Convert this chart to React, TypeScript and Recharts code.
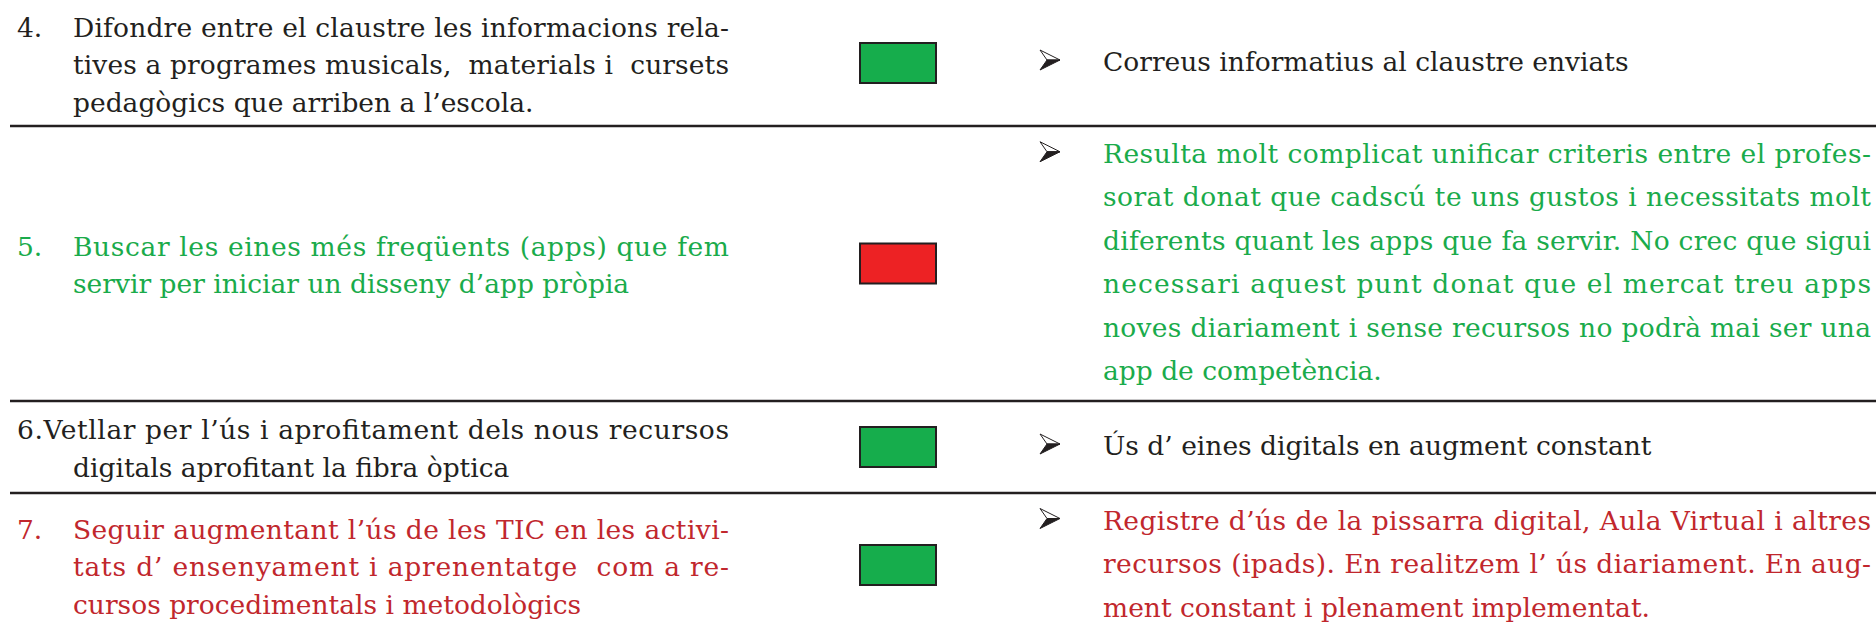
import { BarChart, Bar, XAxis, YAxis } from "recharts";

// files de la taula (alçada de cada fila, llegida de la imatge)
const rowHeights = [126, 275, 92, 144];
const rowNumbers = ["4.", "5.", "", "7."];
const rowTones = ["fosc", "verd", "fosc", "vermell"];
const statuses = ["assolit", "no assolit", "assolit", "assolit"];

const objectiveLines = [
  [
    "Difondre entre el claustre les informacions rela-",
    "tives a programes musicals,  materials i  cursets",
    "pedagògics que arriben a l’escola.",
  ],
  [
    "Buscar les eines més freqüents (apps) que fem",
    "servir per iniciar un disseny d’app pròpia",
  ],
  [
    "6.Vetllar per l’ús i aprofitament dels nous recursos",
    "digitals aprofitant la fibra òptica",
  ],
  [
    "Seguir augmentant l’ús de les TIC en les activi-",
    "tats d’ ensenyament i aprenentatge  com a re-",
    "cursos procedimentals i metodològics",
  ],
];

const evidenceLines = [
  ["Correus informatius al claustre enviats"],
  [
    "Resulta molt complicat unificar criteris entre el profes-",
    "sorat donat que cadscú te uns gustos i necessitats molt",
    "diferents quant les apps que fa servir. No crec que sigui",
    "necessari aquest punt donat que el mercat treu apps",
    "noves diariament i sense recursos no podrà mai ser una",
    "app de competència.",
  ],
  ["Ús d’ eines digitals en augment constant"],
  [
    "Registre d’ús de la pissarra digital, Aula Virtual i altres",
    "recursos (ipads). En realitzem l’ ús diariament. En aug-",
    "ment constant i plenament implementat.",
  ],
];

const TONE: Record<string, string> = {
  fosc: "#231f20",
  verd: "#1aab4b",
  vermell: "#c1272d",
};
const STATUS_FILL: Record<string, string> = {
  assolit: "#16ad4c",
  "no assolit": "#ed2224",
};

const W = 1876;
const TOTAL = rowHeights.reduce((a, b) => a + b, 0);
const FONT = "'DejaVu Serif', serif";

function TableRow(props: any) {
  const { x, y, width, height, row } = props;
  const top = Math.min(y, y + height);
  const h = Math.abs(height);
  const mid = top + h / 2;
  const color = TONE[rowTones[row]];
  const left = objectiveLines[row];
  const right = evidenceLines[row];
  const leftBase = (i: number) => mid + 11 + (i - (left.length - 1) / 2) * 37.5;
  const rightBase = (i: number) => mid + 8 + (i - (right.length - 1) / 2) * 43.5;
  const bx = x + 1040;
  const cy = rightBase(0) - 11;

  return (
    <g fontFamily={FONT} fontSize={26.5}>
      {rowNumbers[row] && (
        <text x={x + 17} y={leftBase(0)} fill={color}>
          {rowNumbers[row]}
        </text>
      )}
      {left.map((t, i) => {
        const sx = !rowNumbers[row] && i === 0 ? x + 17 : x + 73;
        const last = i === left.length - 1;
        return (
          <text
            key={i}
            x={sx}
            y={leftBase(i)}
            fill={color}
            textLength={last ? undefined : x + 729 - sx}
            lengthAdjust="spacing"
            xmlSpace="preserve"
          >
            {t}
          </text>
        );
      })}

      <rect
        x={x + 860}
        y={mid - 20}
        width={76}
        height={40}
        fill={STATUS_FILL[statuses[row]]}
        stroke="#231f20"
        strokeWidth={2}
      />

      <path
        d={`M${bx},${cy - 10} L${bx + 20},${cy} L${bx + 7},${cy} Z`}
        fill="#fff"
        stroke="#231f20"
        strokeWidth={1}
        strokeLinejoin="round"
      />
      <path
        d={`M${bx + 7},${cy} L${bx + 20},${cy} L${bx},${cy + 10} Z`}
        fill="#231f20"
        stroke="#231f20"
        strokeWidth={1}
        strokeLinejoin="round"
      />
      {right.map((t, i) => {
        const last = i === right.length - 1;
        return (
          <text
            key={i}
            x={x + 1103}
            y={rightBase(i)}
            fill={color}
            textLength={last ? undefined : 768}
            lengthAdjust="spacing"
            xmlSpace="preserve"
          >
            {t}
          </text>
        );
      })}

      {row < rowHeights.length - 1 && (
        <line
          x1={x + 10}
          x2={x + width}
          y1={top + h}
          y2={top + h}
          stroke="#231f20"
          strokeWidth={2.5}
        />
      )}
    </g>
  );
}

export default function App() {
  const data = [
    {
      name: "taula",
      ...Object.fromEntries(rowHeights.map((v, i) => [`fila${i}`, v])),
    },
  ];

  return (
    <div style={{ width: W, height: 634, overflow: "hidden", background: "#fff" }}>
      <style>{"body{margin:0;overflow:hidden}"}</style>
      <BarChart
        width={W}
        height={TOTAL}
        data={data}
        margin={{ top: 0, right: 0, bottom: 0, left: 0 }}
        barCategoryGap={0}
        barGap={0}
      >
        <XAxis dataKey="name" hide />
        <YAxis type="number" hide reversed domain={[0, TOTAL]} allowDataOverflow />
        {rowHeights.map((_, i) => (
          <Bar
            key={i}
            dataKey={`fila${i}`}
            stackId="taula"
            isAnimationActive={false}
            shape={(p: any) => <TableRow {...p} row={i} />}
          />
        ))}
      </BarChart>
    </div>
  );
}
